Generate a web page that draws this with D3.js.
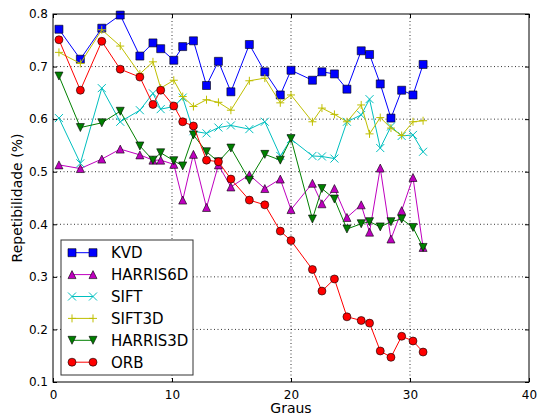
<!DOCTYPE html>
<html>
<head>
<meta charset="utf-8">
<script src="https://cdn.jsdelivr.net/npm/d3@7"></script>
<style>
  body { margin: 0; background: #fff; }
  text { font-family: "DejaVu Sans", sans-serif; fill: #000; }
</style>
</head>
<body>
<svg id="chart" width="537" height="419"></svg>
<script>
// rotation angles (degrees)
const angles = [0.5, 2.3, 4.1, 5.65, 7.3, 8.4, 9.05, 10.15, 10.9, 11.8, 12.9, 13.9, 14.95, 16.5,
                17.8, 19.1, 20.0, 21.8, 22.6, 23.65, 24.7, 25.9, 26.6, 27.5, 28.4, 29.3, 30.25, 31.1];

const kvd      = [0.771, 0.714, 0.773, 0.798, 0.720, 0.745, 0.734, 0.712, 0.738, 0.749, 0.664, 0.710, 0.652, 0.742,
                  0.690, 0.646, 0.693, 0.674, 0.690, 0.686, 0.657, 0.730, 0.723, 0.667, 0.602, 0.655, 0.646, 0.704];
const harris6d = [0.513, 0.506, 0.524, 0.543, 0.532, 0.522, 0.522, 0.514, 0.446, 0.533, 0.432, 0.513, 0.471, 0.494,
                  0.468, 0.486, 0.428, 0.478, 0.439, 0.468, 0.413, 0.437, 0.385, 0.507, 0.372, 0.426, 0.489, 0.356];
const sift     = [0.602, 0.516, 0.659, 0.595, 0.617, 0.649, 0.619, 0.624, 0.641, 0.577, 0.573, 0.584, 0.588, 0.581,
                  0.595, 0.530, 0.562, 0.530, 0.529, 0.525, 0.595, 0.608, 0.638, 0.545, 0.586, 0.568, 0.570, 0.538];
const sift3d   = [0.727, 0.706, 0.770, 0.739, 0.686, 0.709, 0.659, 0.674, 0.643, 0.624, 0.637, 0.632, 0.617, 0.673,
                  0.678, 0.631, 0.646, 0.595, 0.621, 0.609, 0.595, 0.627, 0.572, 0.603, 0.583, 0.569, 0.595, 0.597];
const harris3d = [0.682, 0.584, 0.593, 0.615, 0.549, 0.522, 0.536, 0.521, 0.511, 0.570, 0.538, 0.519, 0.545, 0.484,
                  0.533, 0.522, 0.563, 0.410, 0.468, 0.448, 0.391, 0.401, 0.405, 0.395, 0.405, 0.410, 0.394, 0.356];
const orb      = [0.751, 0.655, 0.748, 0.695, 0.680, 0.628, 0.655, 0.625, 0.595, 0.587, 0.522, 0.519, 0.486, 0.446,
                  0.437, 0.387, 0.369, 0.314, 0.273, 0.296, 0.224, 0.217, 0.212, 0.159, 0.147, 0.187, 0.178, 0.157];

const seriesNames = ["KVD", "HARRIS6D", "SIFT", "SIFT3D", "HARRIS3D", "ORB"];
const xTicks = [0, 10, 20, 30, 40];
const yTicks = [0.1, 0.2, 0.3, 0.4, 0.5, 0.6, 0.7, 0.8];

let series = [
  {name: seriesNames[0], values: kvd,      color: "#0000ff", marker: "square"},
  {name: seriesNames[1], values: harris6d, color: "#bf00bf", marker: "triup"},
  {name: seriesNames[2], values: sift,     color: "#00bfbf", marker: "x"},
  {name: seriesNames[3], values: sift3d,   color: "#bfbf00", marker: "plus"},
  {name: seriesNames[4], values: harris3d, color: "#008000", marker: "tridown"},
  {name: seriesNames[5], values: orb,      color: "#ff0000", marker: "circle"}
];

let margin = {top: 14, right: 8, bottom: 37, left: 53};
let svg = d3.select("svg#chart");
let width = +svg.attr("width") - margin.left - margin.right;
let height = +svg.attr("height") - margin.top - margin.bottom;

let x = d3.scaleLinear().domain([0, 40]).range([0, width]);
let y = d3.scaleLinear().domain([0.1, 0.8]).range([height, 0]);

let g = svg.append("g").attr("transform", "translate(" + margin.left + "," + margin.top + ")");

// dotted grid
g.append("g").selectAll("line").data(xTicks.slice(1, -1)).enter().append("line")
  .attr("x1", d => x(d)).attr("x2", d => x(d))
  .attr("y1", 0).attr("y2", height)
  .attr("stroke", "#000").attr("stroke-width", 0.8).attr("stroke-dasharray", "1,2.5");
g.append("g").selectAll("line").data(yTicks.slice(1, -1)).enter().append("line")
  .attr("y1", d => y(d)).attr("y2", d => y(d))
  .attr("x1", 0).attr("x2", width)
  .attr("stroke", "#000").attr("stroke-width", 0.8).attr("stroke-dasharray", "1,2.5");

function markerPath(type, s) {
  if (type === "triup") return "M0," + (-s) + "L" + s + "," + s + "L" + (-s) + "," + s + "Z";
  if (type === "tridown") return "M0," + s + "L" + s + "," + (-s) + "L" + (-s) + "," + (-s) + "Z";
  if (type === "x") return "M" + (-s) + "," + (-s) + "L" + s + "," + s + "M" + (-s) + "," + s + "L" + s + "," + (-s);
  if (type === "plus") return "M" + (-s) + ",0L" + s + ",0M0," + (-s) + "L0," + s;
  if (type === "square") return "M" + (-s) + "," + (-s) + "h" + (2 * s) + "v" + (2 * s) + "h" + (-2 * s) + "Z";
  return d3.arc()({innerRadius: 0, outerRadius: s, startAngle: 0, endAngle: 2 * Math.PI});
}

function drawMarkers(sel, d) {
  let open = d.marker === "x" || d.marker === "plus";
  sel.attr("d", markerPath(d.marker, 4))
    .attr("fill", open ? "none" : d.color)
    .attr("stroke", open ? d.color : "#000")
    .attr("stroke-width", open ? 1 : 0.6);
}

let line = d3.line().x(d => x(d[0])).y(d => y(d[1]));

let clip = svg.append("clipPath").attr("id", "plotclip")
  .append("rect").attr("x", -6).attr("y", -6).attr("width", width + 12).attr("height", height + 12);

let plot = g.append("g").attr("clip-path", "url(#plotclip)");

for (let s of series) {
  let pts = angles.map((a, i) => [a, s.values[i]]);
  let sg = plot.append("g").attr("class", "series");
  sg.append("path").datum(pts)
    .attr("d", line)
    .attr("fill", "none")
    .attr("stroke", s.color)
    .attr("stroke-width", 1);
  sg.selectAll("path.mk").data(pts).enter().append("path")
    .attr("class", "mk")
    .attr("transform", d => "translate(" + x(d[0]) + "," + y(d[1]) + ")")
    .each(function() { drawMarkers(d3.select(this), s); });
}

// frame and inward ticks on all sides
g.append("rect").attr("width", width).attr("height", height)
  .attr("fill", "none").attr("stroke", "#000").attr("stroke-width", 1);

let tickLen = 4;
g.append("g").call(d3.axisBottom(x).tickValues(xTicks).tickSize(-tickLen).tickPadding(8))
  .attr("transform", "translate(0," + height + ")")
  .call(ax => ax.select(".domain").remove());
g.append("g").call(d3.axisTop(x).tickValues(xTicks).tickSize(-tickLen).tickFormat(""))
  .call(ax => ax.select(".domain").remove());
g.append("g").call(d3.axisLeft(y).tickValues(yTicks).tickSize(-tickLen).tickPadding(5).tickFormat(d3.format(".1f")))
  .call(ax => ax.select(".domain").remove());
g.append("g").call(d3.axisRight(y).tickValues(yTicks).tickSize(-tickLen).tickFormat(""))
  .attr("transform", "translate(" + width + ",0)")
  .call(ax => ax.select(".domain").remove());

g.selectAll(".tick text").attr("font-size", 12).attr("font-family", "DejaVu Sans");
g.selectAll(".tick line").attr("stroke", "#000");

// axis titles
svg.append("text")
  .attr("x", margin.left + width / 2).attr("y", 413)
  .attr("text-anchor", "middle").attr("font-size", 14)
  .text("Graus");
svg.append("text")
  .attr("transform", "translate(22," + (margin.top + height / 2) + ") rotate(-90)")
  .attr("text-anchor", "middle").attr("font-size", 14)
  .text("Repetibilidade (%)");

// legend
let legend = svg.append("g").attr("class", "legend").attr("transform", "translate(61,240)");
legend.append("rect").attr("width", 132).attr("height", 135)
  .attr("fill", "#fff").attr("stroke", "#333").attr("stroke-width", 1);

let items = legend.selectAll("g.item").data(series).enter().append("g")
  .attr("class", "item")
  .attr("transform", (d, i) => "translate(0," + (12.7 + 21.9 * i) + ")");
items.append("line").attr("x1", 11).attr("x2", 32)
  .attr("stroke", d => d.color).attr("stroke-width", 1);
items.each(function(d) {
  let it = d3.select(this);
  for (let px of [11, 32]) {
    it.append("path").attr("transform", "translate(" + px + ",0)").call(drawMarkers, d);
  }
});
items.append("text").attr("x", 50).attr("y", 5.5)
  .attr("font-size", 15)
  .text(d => d.name);
</script>
</body>
</html>
